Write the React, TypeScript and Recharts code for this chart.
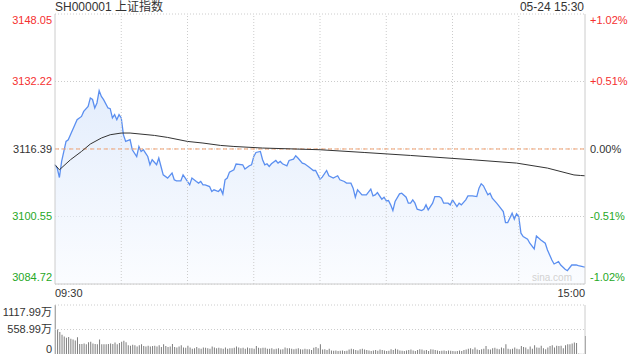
import {
  ComposedChart,
  Area,
  Line,
  XAxis,
  YAxis,
  CartesianGrid,
  ReferenceLine,
  BarChart,
  Bar,
} from 'recharts';

const prevClose = 3116.39;
const priceTicks = [3084.72, 3100.55, 3116.39, 3132.22, 3148.05];
const pctLabels = ['-1.02%', '-0.51%', '0.00%', '+0.51%', '+1.02%'];
const timeTicks = [0, 240];
const timeLabels = ['09:30', '15:00'];
const gridMinutes = [30, 60, 90, 120, 150, 180, 210];
const volTicks = [0, 558.99, 1117.99];
const volLabels = ['0', '558.99万', '1117.99万'];

// minute index (0 = 09:30, 240 = 15:00) and index level
const priceMinutes = [
  0, 1, 2, 3, 4, 5, 6, 7, 9, 10, 12, 13, 15, 16, 17, 18, 19, 20, 21, 22,
  24, 25, 26, 27, 28, 29, 30, 31, 32, 34, 35, 37, 38, 39, 40, 41, 42, 43, 44, 46,
  47, 48, 49, 51, 53, 54, 55, 57, 58, 59, 61, 62, 64, 65, 66, 67, 68, 70, 71, 72,
  74, 75, 76, 77, 78, 79, 81, 82, 85, 86, 88, 89, 90, 91, 93, 94, 95, 96, 97, 98,
  100, 101, 102, 103, 105, 106, 108, 109, 110, 112, 113, 115, 117, 118, 120, 121, 123, 124, 126, 128,
  129, 131, 132, 134, 135, 136, 137, 139, 141, 143, 144, 145, 146, 148, 149, 150, 151, 152, 153, 154,
  156, 157, 159, 160, 161, 162, 163, 164, 166, 167, 168, 169, 171, 172, 174, 175, 176, 178, 179, 180,
  181, 182, 183, 184, 186, 187, 189, 191, 192, 193, 194, 196, 197, 198, 200, 201, 203, 204, 205, 207,
  208, 209, 210, 211, 212, 214, 215, 217, 218, 220, 222, 223, 225, 226, 228, 229, 231, 232, 234, 236,
  237, 239, 240,
];
const priceValues = [
  3112.68, 3111.91, 3109.7, 3113.46, 3115.81, 3118.16, 3118.56, 3119.73, 3122.08, 3123.26,
  3124.03, 3125.21, 3126.38, 3128.36, 3128.0, 3126.01, 3127.18, 3130.07, 3128.73, 3127.96,
  3126.01, 3125.84, 3123.66, 3124.43, 3123.26, 3124.43, 3123.66, 3119.7, 3118.16, 3118.56,
  3116.21, 3114.63, 3116.98, 3115.81, 3116.21, 3115.43, 3114.63, 3112.68, 3113.86, 3112.68,
  3114.26, 3112.28, 3110.33, 3109.56, 3110.73, 3109.16, 3108.92, 3108.92, 3110.33, 3109.56,
  3107.98, 3109.56, 3108.76, 3108.38, 3108.76, 3107.98, 3107.98, 3107.58, 3106.41, 3106.81,
  3106.41, 3107.0, 3105.8, 3109.16, 3109.56, 3110.97, 3111.51, 3112.85, 3112.68, 3111.67,
  3112.45, 3112.68, 3114.63, 3115.57, 3115.81, 3113.86, 3112.68, 3112.92, 3112.28, 3112.92,
  3113.69, 3113.08, 3113.46, 3112.92, 3112.45, 3113.69, 3114.02, 3114.8, 3114.26, 3113.08,
  3112.92, 3112.14, 3111.34, 3111.34, 3109.32, 3109.79, 3111.34, 3110.1, 3109.56, 3110.1,
  3109.16, 3108.76, 3108.38, 3108.38, 3107.21, 3105.09, 3106.81, 3105.63, 3105.63, 3106.97,
  3105.4, 3105.63, 3106.17, 3104.62, 3105.09, 3104.22, 3104.3, 3103.28, 3101.94, 3104.06,
  3105.87, 3106.03, 3105.09, 3103.68, 3103.68, 3104.46, 3103.68, 3102.27, 3101.94, 3102.27,
  3103.28, 3102.11, 3103.68, 3105.23, 3105.23, 3104.86, 3103.68, 3103.68, 3103.28, 3104.46,
  3103.68, 3102.88, 3103.68, 3103.28, 3104.46, 3105.4, 3105.4, 3105.23, 3107.21, 3108.22,
  3107.75, 3105.63, 3106.03, 3104.86, 3103.68, 3103.05, 3101.71, 3099.12, 3099.12, 3101.33,
  3099.92, 3101.17, 3100.53, 3096.63, 3095.83, 3095.22, 3094.28, 3092.94, 3096.0, 3095.06,
  3094.28, 3092.71, 3090.36, 3089.42, 3089.96, 3089.18, 3088.17, 3087.84, 3089.18, 3089.18,
  3089.02, 3088.78, 3088.7,
];

const avgMinutes = [0, 2, 7, 12, 16, 21, 25, 30, 34, 45, 51, 60, 67, 75, 81, 94, 120, 140, 161, 189, 209, 223, 235, 238, 240];
const avgValues = [
  3112.68, 3111.51, 3113.86, 3115.81, 3117.55, 3118.96, 3119.73, 3120.13, 3120.13, 3119.57,
  3119.1, 3118.16, 3117.78, 3117.22, 3116.98, 3116.61, 3116.21, 3115.57, 3114.87, 3113.86,
  3113.08, 3111.91, 3110.3, 3110.17, 3110.1,
];

// volume per minute, in 万
const volumes = [
  1118, 560, 500, 440, 400, 370, 390, 350, 330, 310,
  380, 230, 230, 240, 220, 270, 280, 240, 230, 220,
  330, 220, 220, 220, 230, 240, 230, 260, 220, 250,
  280, 300, 270, 200, 190, 210, 200, 170, 200, 220,
  180, 170, 190, 170, 180, 190, 170, 200, 160, 220,
  180, 160, 170, 230, 160, 150, 170, 200, 150, 140,
  190, 150, 120, 130, 160, 130, 120, 150, 140, 130,
  120, 170, 150, 130, 140, 130, 120, 150, 120, 130,
  130, 140, 170, 150, 130, 140, 120, 150, 130, 130,
  120, 180, 140, 130, 140, 140, 120, 120, 130, 110,
  120, 130, 100, 110, 150, 130, 130, 120, 110, 120,
  130, 110, 100, 120, 110, 110, 90, 140, 160, 130,
  220, 100, 110, 90, 120, 80, 75, 80, 70, 75,
  80, 70, 75, 100, 120, 110, 90, 80, 110, 120,
  100, 90, 80, 70, 80, 90, 75, 100, 90, 80,
  70, 75, 110, 90, 120, 100, 80, 75, 70, 80,
  90, 100, 80, 70, 90, 110, 100, 80, 90, 70,
  110, 100, 90, 80, 70, 75, 80, 70, 80, 75,
  70, 60, 70, 80, 70, 90, 100, 120, 130, 110,
  150, 100, 90, 110, 120, 180, 110, 100, 130, 140,
  120, 110, 150, 130, 220, 120, 110, 120, 150, 120,
  110, 180, 160, 150, 110, 170, 120, 200, 150, 140,
  190, 130, 110, 150, 180, 200, 150, 190, 180, 190,
  130, 200, 220, 220, 240, 260, 250, 10, 8, 6,
  410,
];

const FONT = 'Arial, "Liberation Sans", "Noto Sans CJK SC", sans-serif';
const RED = '#f53030';
const GREEN = '#26a826';
const BORDER = '#cccccc';

const priceMap = new Map(priceMinutes.map((m, i) => [m, priceValues[i]]));
const avgMap = new Map(avgMinutes.map((m, i) => [m, avgValues[i]]));
const allMinutes = Array.from(new Set([...priceMinutes, ...avgMinutes])).sort((a, b) => a - b);
const rows = allMinutes.map((m) => ({
  m,
  price: priceMap.has(m) ? priceMap.get(m) : null,
  avg: avgMap.has(m) ? avgMap.get(m) : null,
}));
const volRows = volumes.map((v, i) => ({ m: i, vol: v }));

function levelColor(v: number) {
  if (v > prevClose + 0.001) return RED;
  if (v < prevClose - 0.001) return GREEN;
  return '#333';
}

function edgeShift(v: number) {
  if (v === priceTicks[priceTicks.length - 1]) return 6;
  if (v === priceTicks[0]) return -7;
  return 0;
}

function LeftTick({ x, y, payload }: any) {
  const v = payload.value;
  return (
    <text x={x} y={y + edgeShift(v)} dy="0.35em" textAnchor="end" fontSize={11} fill={levelColor(v)}>
      {v.toFixed(2)}
    </text>
  );
}

function RightTick({ x, y, payload }: any) {
  const v = payload.value;
  const label = pctLabels[priceTicks.indexOf(v)];
  return (
    <text x={x} y={y + edgeShift(v)} dy="0.35em" textAnchor="start" fontSize={11} fill={levelColor(v)}>
      {label}
    </text>
  );
}

function TimeTick({ x, y, payload }: any) {
  const i = timeTicks.indexOf(payload.value);
  return (
    <text x={x} y={y} dy="0.35em" textAnchor={i === 0 ? 'start' : 'end'} fontSize={11} fill="#333">
      {timeLabels[i]}
    </text>
  );
}

function VolTick({ x, y, payload }: any) {
  const i = volTicks.indexOf(payload.value);
  const shift = i === 2 ? 7 : i === 0 ? -5 : 0;
  return (
    <text x={x} y={y + shift} dy="0.35em" textAnchor="end" fontSize={11} fill="#333">
      {volLabels[i]}
    </text>
  );
}

export default function App() {
  return (
    <div
      style={{
        position: 'absolute',
        left: 0,
        top: 0,
        width: 640,
        height: 360,
        background: '#fff',
        fontFamily: FONT,
        overflow: 'hidden',
      }}
    >
      <div style={{ position: 'absolute', left: 55, top: 0, fontSize: 12, lineHeight: '15px', color: '#333' }}>
        SH000001 上证指数
      </div>
      <div style={{ position: 'absolute', right: 56, top: 0, fontSize: 12, lineHeight: '15px', color: '#333' }}>
        05-24 15:30
      </div>

      <div style={{ position: 'absolute', left: 0, top: 0 }}>
        <ComposedChart width={640} height={304} data={rows} margin={{ top: 14, right: 0, bottom: 0, left: 0 }}>
          <defs>
            <linearGradient id="priceFill" x1="0" y1="0" x2="0" y2="1">
              <stop offset="0%" stopColor="#cfe0fa" stopOpacity={0.95} />
              <stop offset="100%" stopColor="#f7faff" stopOpacity={0.9} />
            </linearGradient>
          </defs>
          <CartesianGrid vertical={false} stroke={BORDER} strokeDasharray="1 2" />
          {gridMinutes.map((m) => (
            <ReferenceLine key={m} x={m} stroke={BORDER} strokeDasharray="1 2" />
          ))}
          <XAxis
            dataKey="m"
            type="number"
            domain={[0, 240]}
            ticks={timeTicks}
            interval={0}
            tick={TimeTick}
            tickLine={false}
            tickSize={0}
            tickMargin={9}
            axisLine={{ stroke: BORDER }}
            height={20}
          />
          <XAxis
            xAxisId="top"
            dataKey="m"
            type="number"
            orientation="top"
            domain={[0, 240]}
            tick={false}
            tickLine={false}
            axisLine={{ stroke: BORDER }}
            height={0}
          />
          <YAxis
            domain={[priceTicks[0], priceTicks[priceTicks.length - 1]]}
            ticks={priceTicks}
            interval={0}
            width={55}
            tick={LeftTick}
            tickLine={false}
            tickSize={0}
            tickMargin={3}
            axisLine={{ stroke: BORDER }}
          />
          <YAxis
            yAxisId="r"
            orientation="right"
            domain={[priceTicks[0], priceTicks[priceTicks.length - 1]]}
            ticks={priceTicks}
            interval={0}
            width={55}
            tick={RightTick}
            tickLine={false}
            tickSize={0}
            tickMargin={5}
            axisLine={{ stroke: BORDER }}
          />
          <Area
            type="linear"
            dataKey="price"
            stroke="#5b8ff0"
            strokeWidth={1.3}
            fill="url(#priceFill)"
            connectNulls
            dot={false}
            activeDot={false}
            isAnimationActive={false}
          />
          <Line
            yAxisId="r"
            type="linear"
            dataKey="price"
            stroke="none"
            connectNulls
            dot={false}
            activeDot={false}
            legendType="none"
            isAnimationActive={false}
          />
          <ReferenceLine y={prevClose} stroke="#f2a070" strokeDasharray="4 3" />
          <Line
            type="linear"
            dataKey="avg"
            stroke="#333"
            strokeWidth={1}
            connectNulls
            dot={false}
            activeDot={false}
            isAnimationActive={false}
          />
        </ComposedChart>
      </div>

      <div
        style={{
          position: 'absolute',
          left: 532,
          top: 271,
          fontSize: 10,
          lineHeight: '14px',
          color: '#d2d2d2',
        }}
      >
        sina.com
      </div>

      <div style={{ position: 'absolute', left: 0, top: 296 }}>
        <BarChart width={640} height={64} data={volRows} margin={{ top: 9, right: 0, bottom: 6, left: 0 }}>
          <XAxis dataKey="m" type="number" domain={[0, 240]} hide />
          <YAxis
            domain={[0, volTicks[volTicks.length - 1]]}
            ticks={volTicks}
            interval={0}
            width={55}
            tick={VolTick}
            tickLine={false}
            tickSize={0}
            tickMargin={3}
            axisLine={{ stroke: BORDER }}
          />
          <YAxis
            yAxisId="r"
            orientation="right"
            width={55}
            tick={false}
            tickLine={false}
            axisLine={{ stroke: BORDER }}
          />
          <ReferenceLine y={volTicks[1]} stroke={BORDER} strokeDasharray="1 2" />
          <ReferenceLine y={volTicks[2]} stroke={BORDER} strokeDasharray="1 2" />
          <Bar dataKey="vol" fill="#7d7d7d" barSize={1} isAnimationActive={false} />
        </BarChart>
      </div>
    </div>
  );
}
